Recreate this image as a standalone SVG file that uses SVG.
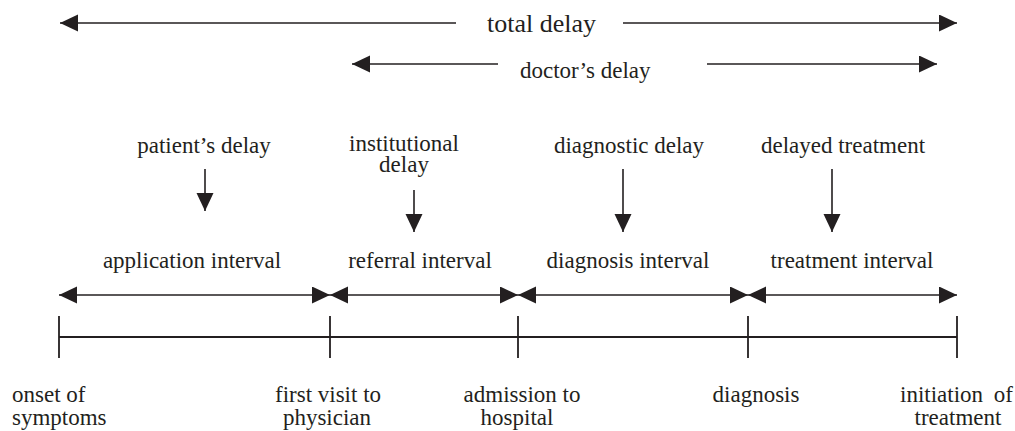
<svg xmlns="http://www.w3.org/2000/svg" width="1015" height="431" viewBox="0 0 1015 431">
<defs>
<style>
text{font-family:'Liberation Serif','Times New Roman',Times,serif;fill:#231f20;}
.big{font-size:26px;}
.lbl{font-size:23px;}
.ln{stroke:#231f20;stroke-width:1.6;fill:none;}
.arr{marker-start:url(#ah);marker-end:url(#ah);}
.one{marker-end:url(#ah);}
.tl{stroke:#231f20;stroke-width:1.8;fill:none;}
</style>
<marker id="ah" markerUnits="userSpaceOnUse" markerWidth="19" markerHeight="18" refX="18" refY="8.5" orient="auto-start-reverse" viewBox="0 0 19 18">
<path d="M0,0 L18,8.5 L0,17 z" fill="#231f20"/>
</marker>
</defs>
<g id="connectors">
<line class="ln one" x1="456" y1="23" x2="60" y2="23"/>
<line class="ln one" x1="623" y1="23" x2="957" y2="23"/>
<line class="ln one" x1="498" y1="64" x2="352" y2="64"/>
<line class="ln one" x1="707" y1="64" x2="937" y2="64"/>
<line class="ln one" x1="205" y1="169" x2="205" y2="211"/>
<line class="ln one" x1="414" y1="190" x2="414" y2="232"/>
<line class="ln one" x1="623" y1="169" x2="623" y2="232"/>
<line class="ln one" x1="832" y1="169" x2="832" y2="232"/>
<line class="ln arr" x1="59" y1="295" x2="330" y2="295"/>
<line class="ln arr" x1="330" y1="295" x2="518" y2="295"/>
<line class="ln arr" x1="518" y1="295" x2="748" y2="295"/>
<line class="ln arr" x1="748" y1="295" x2="957" y2="295"/>
</g>
<g id="timeline">
<line class="tl" x1="59" y1="337" x2="957" y2="337"/>
<line class="tl" x1="59" y1="316" x2="59" y2="358"/>
<line class="tl" x1="330" y1="316" x2="330" y2="358"/>
<line class="tl" x1="518" y1="316" x2="518" y2="358"/>
<line class="tl" x1="748" y1="316" x2="748" y2="358"/>
<line class="tl" x1="957" y1="316" x2="957" y2="358"/>
</g>
<g id="total-delay"><text class="big" x="487" y="32">total delay</text></g>
<g id="doctors-delay"><text class="lbl" x="520" y="78">doctor’s delay</text></g>
<g id="patients-delay"><text class="lbl" x="204" y="153" text-anchor="middle">patient’s delay</text></g>
<g id="institutional-delay"><text class="lbl" x="404" y="151" text-anchor="middle">institutional</text><text class="lbl" x="404" y="172" text-anchor="middle">delay</text></g>
<g id="diagnostic-delay"><text class="lbl" x="629" y="153" text-anchor="middle">diagnostic delay</text></g>
<g id="delayed-treatment"><text class="lbl" x="843" y="153" text-anchor="middle">delayed treatment</text></g>
<g id="application-interval"><text class="lbl" x="192" y="268" text-anchor="middle">application interval</text></g>
<g id="referral-interval"><text class="lbl" x="420" y="268" text-anchor="middle">referral interval</text></g>
<g id="diagnosis-interval"><text class="lbl" x="628" y="268" text-anchor="middle">diagnosis interval</text></g>
<g id="treatment-interval"><text class="lbl" x="852" y="268" text-anchor="middle">treatment interval</text></g>
<g id="onset"><text class="lbl" x="12" y="402">onset of</text><text class="lbl" x="12" y="425">symptoms</text></g>
<g id="first-visit"><text class="lbl" x="328" y="402" text-anchor="middle">first visit to</text><text class="lbl" x="327" y="425" text-anchor="middle">physician</text></g>
<g id="admission"><text class="lbl" x="522" y="402" text-anchor="middle">admission to</text><text class="lbl" x="517" y="425" text-anchor="middle">hospital</text></g>
<g id="diagnosis"><text class="lbl" x="756" y="402" text-anchor="middle">diagnosis</text></g>
<g id="initiation"><text class="lbl" x="900" y="402" word-spacing="5">initiation of</text><text class="lbl" x="958" y="425" text-anchor="middle">treatment</text></g>
</svg>
